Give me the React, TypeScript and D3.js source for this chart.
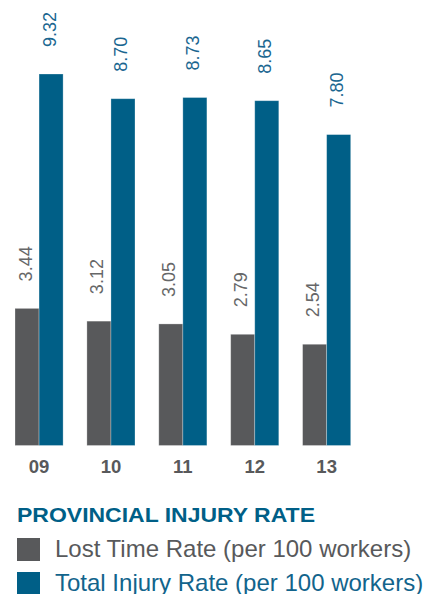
import React from "react";
import * as d3 from "d3";

const years = ["09", "10", "11", "12", "13"];
const lostTime = [3.44, 3.12, 3.05, 2.79, 2.54];
const totalInjury = [9.32, 8.7, 8.73, 8.65, 7.8];
const seriesNames = ["Lost Time Rate (per 100 workers)", "Total Injury Rate (per 100 workers)"];
const title = "PROVINCIAL INJURY RATE";

const GRAY = "#58595b";
const BLUE = "#005f87";
const FONT = "'Liberation Sans', Arial, Helvetica, sans-serif";

export default function App() {
  const W = 430;
  const H = 594;
  const x = d3.scaleBand<string>().domain(years).range([15, 350.7]).paddingInner(0.331).paddingOuter(0);
  const inner = d3.scaleBand<number>().domain([0, 1]).range([0, x.bandwidth()]);
  const y = d3.scaleLinear().domain([0, 9.32]).range([445.5, 74]);
  const series = [lostTime, totalInjury];
  const colors = [GRAY, BLUE];
  const labelColors = ["#666768", "#1a6690"];

  return (
    <svg width={W} height={H} style={{ position: "absolute", left: 0, top: 0 }} fontFamily={FONT}>
      {years.map((yr, i) => (
        <g key={yr} transform={`translate(${x(yr)},0)`}>
          {series.map((s, j) => {
            const bx = inner(j)!;
            const bw = inner.bandwidth();
            const top = y(s[i]);
            const cx = bx + bw / 2;
            return (
              <g key={j}>
                <rect x={bx} y={top} width={bw} height={y(0) - top} fill={colors[j]} stroke="#ffffff" strokeOpacity={0.35} strokeWidth={0.8} />
                <text
                  transform={`translate(${cx + 4.5},${top - 27}) rotate(-90)`}
                  fontSize={18}
                  fill={labelColors[j]}
                  textAnchor="start"
                >
                  {s[i].toFixed(2)}
                </text>
              </g>
            );
          })}
          <text x={x.bandwidth() / 2} y={473} textAnchor="middle" fontSize={18.5} fontWeight="bold" fill={GRAY}>
            {yr}
          </text>
        </g>
      ))}
      <text x={17} y={522} fontSize={19.5} fontWeight="bold" fill={BLUE} textLength={298} lengthAdjust="spacingAndGlyphs">
        {title}
      </text>
      {seriesNames.map((name, j) => (
        <g key={name} transform={`translate(0,${j * 34})`}>
          <rect x={17} y={538} width={23} height={23} fill={colors[j]} />
          <text x={55} y={557} fontSize={24} fill={j === 0 ? "#58595b" : "#12648c"}>
            {name}
          </text>
        </g>
      ))}
    </svg>
  );
}
